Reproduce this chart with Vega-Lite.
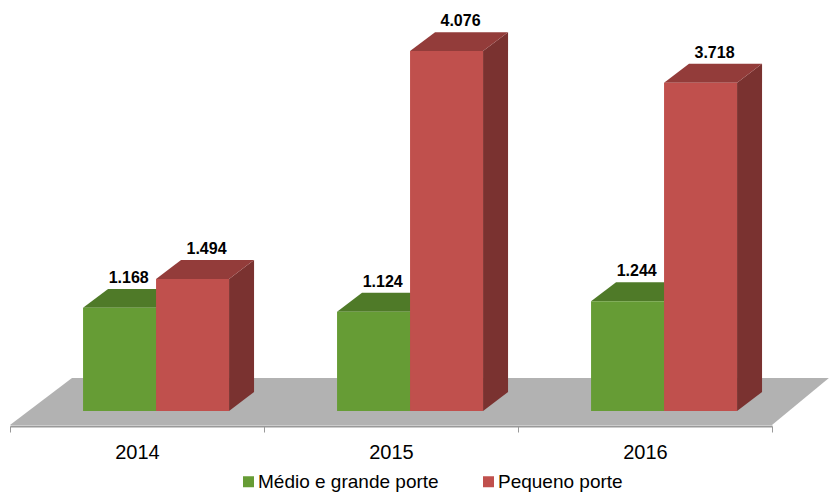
{"$schema":"https://vega.github.io/schema/vega-lite/v6.json","width":762,"height":426,"autosize":{"type":"none"},"padding":{"left":10,"right":57,"top":0,"bottom":67},"background":"white","config":{"view":{"stroke":null},"font":"Liberation Sans","locale":{"number":{"decimal":",","thousands":".","grouping":[3],"currency":["R$",""]}},"axisX":{"grid":false,"labelFontSize":20,"labelColor":"#000000","labelPadding":10,"labelFlush":false,"labelOverlap":false,"domainColor":"#999999","domainWidth":2,"tickColor":"#999999","tickSize":6}},"data":{"values":[{"year":2014,"series":"Médio e grande porte","value":1168},{"year":2014,"series":"Pequeno porte","value":1494},{"year":2015,"series":"Médio e grande porte","value":1124},{"year":2015,"series":"Pequeno porte","value":4076},{"year":2016,"series":"Médio e grande porte","value":1244},{"year":2016,"series":"Pequeno porte","value":3718}]},"transform":[{"calculate":"datum.year+0.075-(datum.series==='Pequeno porte'?0:0.2874)","as":"left"},{"calculate":"datum.left+0.2874","as":"right"},{"calculate":"datum.year+'-'+datum.series","as":"bar"}],"layer":[{"data":{"values":[{"px":2013.5,"lo":-159,"hi":-159},{"px":2013.744,"lo":-159,"hi":374},{"px":2016.5,"lo":-159,"hi":374},{"px":2016.724,"lo":374,"hi":374}]},"transform":[],"mark":{"type":"area","color":"#b2b2b2","clip":false},"encoding":{"x":{"field":"px","type":"quantitative","scale":{"domain":[2013.5,2016.5],"nice":false,"zero":false},"axis":{"title":null,"values":[2013.5,2014,2014.5,2015,2015.5,2016,2016.5],"labelExpr":"datum.value%1===0?format(datum.value,'d'):''","tickOpacity":{"condition":{"test":"datum.value%1!==0","value":1},"value":0}}},"y":{"field":"lo","type":"quantitative","scale":{"domain":[-170,4655],"nice":false,"zero":false},"axis":null},"y2":{"field":"hi"}}},{"transform":[{"calculate":"[0,1]","as":"k"},{"flatten":["k"]},{"calculate":"datum.right+datum.k*0.0984","as":"sx"},{"calculate":"datum.k*215","as":"sy0"},{"calculate":"datum.value+datum.k*215","as":"sy1"}],"mark":{"type":"area"},"encoding":{"detail":{"field":"bar"},"x":{"field":"sx","type":"quantitative","axis":{"title":null,"values":[2013.5,2014,2014.5,2015,2015.5,2016,2016.5],"labelExpr":"datum.value%1===0?format(datum.value,'d'):''","tickOpacity":{"condition":{"test":"datum.value%1!==0","value":1},"value":0}}},"y":{"field":"sy0","type":"quantitative","axis":null},"y2":{"field":"sy1"},"color":{"condition":{"test":"datum.series==='Pequeno porte'","value":"#7a3230"},"value":"#4f7a28"}}},{"transform":[{"calculate":"[0,1]","as":"k"},{"flatten":["k"]},{"calculate":"datum.left+datum.k*0.0984","as":"tx0"},{"calculate":"datum.right+datum.k*0.0984","as":"tx1"},{"calculate":"datum.value+datum.k*215","as":"ty"}],"mark":{"type":"area","orient":"horizontal"},"encoding":{"detail":{"field":"bar"},"y":{"field":"ty","type":"quantitative","axis":null},"x":{"field":"tx0","type":"quantitative","axis":{"title":null,"values":[2013.5,2014,2014.5,2015,2015.5,2016,2016.5],"labelExpr":"datum.value%1===0?format(datum.value,'d'):''","tickOpacity":{"condition":{"test":"datum.value%1!==0","value":1},"value":0}}},"x2":{"field":"tx1"},"color":{"condition":{"test":"datum.series==='Pequeno porte'","value":"#933c3a"},"value":"#4f7a28"}}},{"mark":{"type":"rect"},"encoding":{"x":{"field":"left","type":"quantitative","axis":{"title":null,"values":[2013.5,2014,2014.5,2015,2015.5,2016,2016.5],"labelExpr":"datum.value%1===0?format(datum.value,'d'):''","tickOpacity":{"condition":{"test":"datum.value%1!==0","value":1},"value":0}}},"x2":{"field":"right"},"y":{"field":"value","type":"quantitative","axis":null},"y2":{"datum":0},"color":{"field":"series","type":"nominal","scale":{"domain":["Médio e grande porte","Pequeno porte"],"range":["#669c35","#c0504d"]},"legend":{"title":null,"orient":"none","legendX":229,"legendY":472,"direction":"horizontal","columns":2,"symbolType":"square","symbolSize":121,"symbolOpacity":1,"labelFontSize":19,"labelColor":"#000000","labelLimit":300,"labelOffset":0,"columnPadding":40,"padding":0}}}},{"transform":[{"calculate":"(datum.left+datum.right)/2+(datum.series==='Pequeno porte'?0.055:0.036)","as":"tx"},{"calculate":"datum.value+215","as":"ty"}],"mark":{"type":"text","baseline":"alphabetic","dy":-6,"fontWeight":"bold","fontSize":16,"color":"#000000"},"encoding":{"x":{"field":"tx","type":"quantitative","axis":{"title":null,"values":[2013.5,2014,2014.5,2015,2015.5,2016,2016.5],"labelExpr":"datum.value%1===0?format(datum.value,'d'):''","tickOpacity":{"condition":{"test":"datum.value%1!==0","value":1},"value":0}}},"y":{"field":"ty","type":"quantitative","axis":null},"text":{"field":"value","type":"quantitative","format":",d"}}}]}
